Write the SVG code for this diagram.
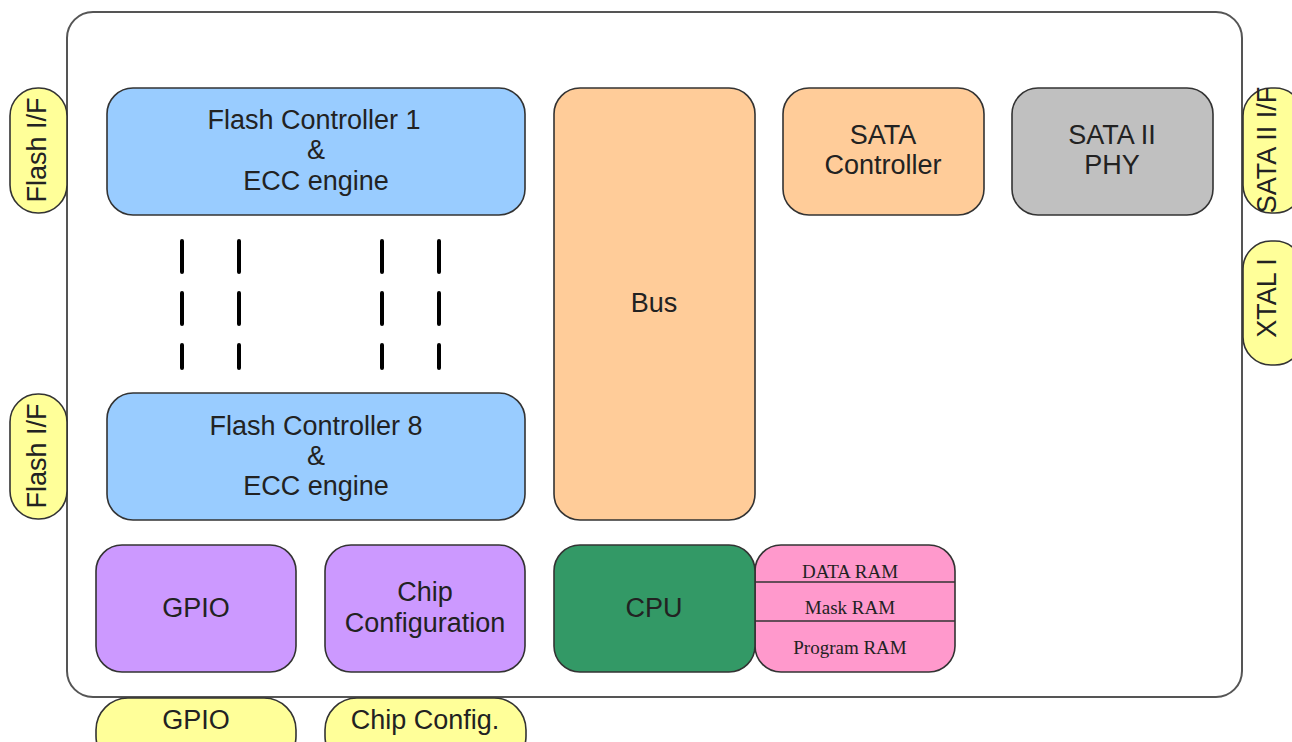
<svg xmlns="http://www.w3.org/2000/svg" width="1292" height="742" viewBox="0 0 1292 742">
<style>
.box{stroke:#333;stroke-width:1.6}
.pill{fill:#ffff99;stroke:#333;stroke-width:1.6}
.t{font-family:"Liberation Sans",Arial,sans-serif;font-size:27px;fill:#222;text-anchor:middle;dominant-baseline:central}
.s{font-family:"Liberation Serif","Times New Roman",serif;font-size:19px;fill:#222;text-anchor:middle;dominant-baseline:central}
.dash{stroke:#000;stroke-width:4;stroke-linecap:round}
</style>
<rect width="1292" height="742" fill="#fff"/>
<g id="chip">
<rect x="67" y="12" width="1175" height="685" rx="26" fill="#fff" stroke="#555" stroke-width="2"/>
</g>
<g id="flash-if-1"><rect class="pill" x="10" y="88" width="57" height="125" rx="28"/><text class="t" transform="translate(37,150) rotate(-90)">Flash I/F</text></g>
<g id="flash-if-8"><rect class="pill" x="10" y="394" width="57" height="125" rx="28"/><text class="t" transform="translate(37,456) rotate(-90)">Flash I/F</text></g>
<g id="sata-if"><rect class="pill" x="1243" y="88" width="60" height="125" rx="28"/><text class="t" transform="translate(1267,150) rotate(-90)">SATA II I/F</text></g>
<g id="xtal"><rect class="pill" x="1243" y="241" width="60" height="124" rx="28"/><text class="t" transform="translate(1267,298) rotate(-90)">XTAL I</text></g>
<g id="gpio-pin"><rect class="pill" x="96" y="698" width="200" height="70" rx="32"/><text class="t" x="196" y="720">GPIO</text></g>
<g id="chipcfg-pin"><rect class="pill" x="325" y="698" width="201" height="70" rx="32"/><text class="t" x="425" y="720">Chip Config.</text></g>
<g id="flash-ctrl-1"><rect class="box" x="107" y="88" width="418" height="127" rx="26" fill="#99ccff"/><text class="t" x="314" y="120">Flash Controller 1</text><text class="t" x="316" y="150">&amp;</text><text class="t" x="316" y="181">ECC engine</text></g>
<g id="flash-ctrl-8"><rect class="box" x="107" y="393" width="418" height="127" rx="26" fill="#99ccff"/><text class="t" x="316" y="426">Flash Controller 8</text><text class="t" x="316" y="456">&amp;</text><text class="t" x="316" y="486">ECC engine</text></g>
<g id="bus"><rect class="box" x="554" y="88" width="201" height="432" rx="26" fill="#ffcc99"/><text class="t" x="654" y="303">Bus</text></g>
<g id="sata-ctrl"><rect class="box" x="783" y="88" width="201" height="127" rx="26" fill="#ffcc99"/><text class="t" x="883" y="135">SATA</text><text class="t" x="883" y="165">Controller</text></g>
<g id="sata-phy"><rect class="box" x="1012" y="88" width="201" height="127" rx="26" fill="#c0c0c0"/><text class="t" x="1112" y="135">SATA II</text><text class="t" x="1112" y="165">PHY</text></g>
<g id="gpio"><rect class="box" x="96" y="545" width="200" height="127" rx="26" fill="#cc99ff"/><text class="t" x="196" y="608">GPIO</text></g>
<g id="chip-config"><rect class="box" x="325" y="545" width="200" height="127" rx="26" fill="#cc99ff"/><text class="t" x="425" y="592">Chip</text><text class="t" x="425" y="623">Configuration</text></g>
<g id="ram"><rect class="box" x="755" y="545" width="200" height="127" rx="26" fill="#ff99cc"/><line x1="755" y1="582" x2="955" y2="582" stroke="#333" stroke-width="1.6"/><line x1="755" y1="621" x2="955" y2="621" stroke="#333" stroke-width="1.6"/><text class="s" x="850" y="571">DATA RAM</text><text class="s" x="850" y="607">Mask RAM</text><text class="s" x="850" y="647">Program RAM</text></g>
<g id="cpu"><rect class="box" x="554" y="545" width="201" height="127" rx="26" fill="#339966"/><text class="t" x="654" y="608">CPU</text></g>
<g id="connectors">
<path class="dash" d="M182 241V272M182 293V324M182 345V368M239 241V272M239 293V324M239 345V368M382 241V272M382 293V324M382 345V368M439 241V272M439 293V324M439 345V368"/>
</g>
</svg>
